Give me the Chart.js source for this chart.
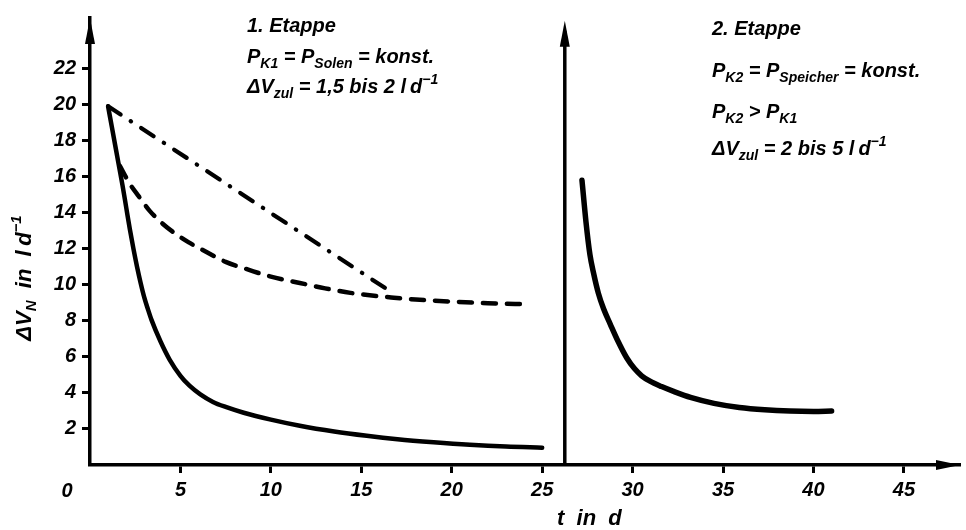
<!DOCTYPE html>
<html>
<head>
<meta charset="utf-8">
<script src="https://cdn.jsdelivr.net/npm/chart.js@4/dist/chart.umd.min.js"></script>
<style>
  html, body { margin: 0; padding: 0; background: #fff; }
  #wrap { width: 966px; height: 530px; position: relative; }
</style>
</head>
<body>
<div id="wrap"><canvas id="c" width="966" height="530"></canvas></div>
<script>
// ---- data ----
const xTickValues = [5, 10, 15, 20, 25, 30, 35, 40, 45];
const yTickValues = [2, 4, 6, 8, 10, 12, 14, 16, 18, 20, 22];

// Stage 1, solid curve
const stage1SolidT = [1, 1.2, 1.4, 1.6, 1.8, 2.0, 2.2, 2.4, 2.6, 2.8, 3.0, 3.2, 3.4, 3.9, 4.4, 5.0, 5.5, 6.1, 6.8, 7.5, 8.5, 10, 11.6, 13.5, 15.3, 17, 19, 21, 23, 25];
const stage1SolidV = [19.9, 18.8, 17.7, 16.6, 15.5, 14.3, 13.1, 12.0, 11.0, 10.1, 9.3, 8.65, 8.05, 6.85, 5.85, 4.95, 4.4, 3.92, 3.5, 3.22, 2.9, 2.52, 2.18, 1.86, 1.62, 1.43, 1.26, 1.12, 1.02, 0.96];

// Stage 1, dashed curve
const stage1DashT = [1.65, 2.2, 2.7, 3.3, 4.0, 4.7, 5.46, 6.1, 7.5, 8.87, 10, 11.6, 13, 14.4, 16.8, 18, 19.9, 22, 24.15];
const stage1DashV = [16.6, 15.6, 14.9, 14.1, 13.4, 12.85, 12.35, 12.0, 11.27, 10.8, 10.45, 10.1, 9.8, 9.55, 9.28, 9.18, 9.07, 8.98, 8.92];

// Stage 1, dash-dot line
const stage1DashDotT = [1, 16.8];
const stage1DashDotV = [19.9, 9.5];

// Stage 2, solid curve
const stage2SolidT = [27.2, 27.42, 27.64, 27.85, 28.1, 28.4, 28.75, 29.2, 29.67, 30.1, 30.5, 30.96, 31.6, 32.3, 33.2, 34.5, 35.9, 37.3, 38.7, 40, 41.0];
const stage2SolidV = [15.8, 13.5, 11.67, 10.6, 9.55, 8.65, 7.85, 6.85, 5.95, 5.35, 4.95, 4.65, 4.35, 4.07, 3.75, 3.42, 3.19, 3.06, 2.99, 2.97, 2.99];

// second stage axis position (t in d)
const stage2AxisT = 26.25;

const FONT = '"Liberation Sans", Arial, sans-serif';
const pts = (xs, ys) => xs.map((x, i) => ({ x: x, y: ys[i] }));

function segsWidth(ctx, segs, base) {
  let w = 0;
  for (const s of segs) {
    ctx.font = `italic bold ${s.size || base}px ${FONT}`;
    w += ctx.measureText(s.t).width;
  }
  return w;
}
function drawSegs(ctx, x, y, segs, base) {
  let cx = x;
  for (const s of segs) {
    ctx.font = `italic bold ${s.size || base}px ${FONT}`;
    ctx.fillText(s.t, cx, y + (s.dy || 0));
    cx += ctx.measureText(s.t).width;
  }
}
const T = t => ({ t });
const SUB = t => ({ t, size: 14, dy: 5 });
const SUP = t => ({ t, size: 14, dy: -9 });

const overlay = {
  id: 'overlay',
  afterDraw(chart) {
    const ctx = chart.ctx;
    const xs = chart.scales.x, ys = chart.scales.y;
    const x0 = xs.getPixelForValue(0), y0 = ys.getPixelForValue(0);
    const yTopPx = ys.getPixelForValue(ys.max);
    const xEnd = xs.getPixelForValue(xs.max);
    ctx.save();
    ctx.fillStyle = '#000';
    ctx.strokeStyle = '#000';
    // y axis arrowhead
    ctx.beginPath();
    ctx.moveTo(x0, yTopPx);
    ctx.lineTo(x0 - 5, yTopPx + 26);
    ctx.lineTo(x0 + 5, yTopPx + 26);
    ctx.closePath(); ctx.fill();
    // x axis arrowhead
    ctx.beginPath();
    ctx.moveTo(xEnd, y0);
    ctx.lineTo(xEnd - 24, y0 - 5);
    ctx.lineTo(xEnd - 24, y0 + 5);
    ctx.closePath(); ctx.fill();
    // second stage vertical axis
    const x2 = xs.getPixelForValue(stage2AxisT);
    const top2 = ys.getPixelForValue(24.65);
    ctx.lineWidth = 3.5;
    ctx.beginPath();
    ctx.moveTo(x2, y0);
    ctx.lineTo(x2, top2 + 10);
    ctx.stroke();
    ctx.beginPath();
    ctx.moveTo(x2, top2);
    ctx.lineTo(x2 - 5, top2 + 26);
    ctx.lineTo(x2 + 5, top2 + 26);
    ctx.closePath(); ctx.fill();

    ctx.textBaseline = 'alphabetic';
    // origin label
    ctx.font = `italic bold 20px ${FONT}`;
    ctx.textAlign = 'center';
    ctx.fillText('0', x0 - 23, 497);
    ctx.textAlign = 'left';

    // x axis title
    drawSegs(ctx, 557, 525, [T('t  in  d')], 22);

    // y axis title (rotated)
    const ySegs = [T('\u0394V'), { t: 'N', size: 15, dy: 5 }, T('  in  l\u2009d'), { t: '\u22121', size: 15, dy: -10 }];
    const w = segsWidth(ctx, ySegs, 22);
    ctx.save();
    ctx.translate(31, 278);
    ctx.rotate(-Math.PI / 2);
    drawSegs(ctx, -w / 2, 0, ySegs, 22);
    ctx.restore();

    // stage 1 annotation
    const a1 = 247;
    drawSegs(ctx, a1, 32, [T('1. Etappe')], 20);
    drawSegs(ctx, a1, 63, [T('P'), SUB('K1'), T(' = P'), SUB('Solen'), T(' = konst.')], 20);
    drawSegs(ctx, a1, 93, [T('\u0394V'), SUB('zul'), T(' = 1,5 bis 2 l\u2009d'), SUP('\u22121')], 20);

    // stage 2 annotation
    const a2 = 712;
    drawSegs(ctx, a2, 35, [T('2. Etappe')], 20);
    drawSegs(ctx, a2, 77, [T('P'), SUB('K2'), T(' = P'), SUB('Speicher'), T(' = konst.')], 20);
    drawSegs(ctx, a2, 118, [T('P'), SUB('K2'), T(' > P'), SUB('K1')], 20);
    drawSegs(ctx, a2, 155, [T('\u0394V'), SUB('zul'), T(' = 2 bis 5 l\u2009d'), SUP('\u22121')], 20);
    ctx.restore();
  }
};

const lineBase = {
  showLine: true,
  pointRadius: 0,
  borderColor: '#000',
  backgroundColor: '#000',
  fill: false,
  cubicInterpolationMode: 'monotone',
  borderCapStyle: 'round',
  borderJoinStyle: 'round'
};

new Chart(document.getElementById('c'), {
  type: 'scatter',
  data: {
    datasets: [
      Object.assign({}, lineBase, { label: 'Stufe 1', data: pts(stage1SolidT, stage1SolidV), borderWidth: 4.5 }),
      Object.assign({}, lineBase, { label: 'Stufe 1 gestrichelt', data: pts(stage1DashT, stage1DashV), borderWidth: 4.5, borderDash: [13, 11] }),
      Object.assign({}, lineBase, { label: 'Stufe 1 strichpunktiert', data: pts(stage1DashDotT, stage1DashDotV), borderWidth: 4.2, borderDash: [15, 12, 0.5, 12] }),
      Object.assign({}, lineBase, { label: 'Stufe 2', data: pts(stage2SolidT, stage2SolidV), borderWidth: 5.5 })
    ]
  },
  options: {
    responsive: false,
    animation: false,
    events: [],
    layout: { padding: { left: 0, top: 8, right: 6, bottom: 0 } },
    plugins: { legend: { display: false }, tooltip: { enabled: false } },
    scales: {
      x: {
        type: 'linear',
        min: 0,
        max: 48.1,
        afterFit: s => { s.height = 65; },
        afterBuildTicks: s => { s.ticks = xTickValues.map(v => ({ value: v })); },
        grid: { display: true, drawOnChartArea: false, drawTicks: true, tickLength: 8, tickWidth: 3, tickColor: '#000' },
        border: { display: true, color: '#000', width: 3.5 },
        ticks: {
          autoSkip: false,
          maxRotation: 0,
          padding: 5,
          color: '#000',
          font: { family: FONT, size: 20, style: 'italic', weight: 'bold' },
          callback: v => String(v)
        }
      },
      y: {
        type: 'linear',
        min: 0,
        max: 24.8,
        afterFit: s => { s.width = 90; },
        afterBuildTicks: s => { s.ticks = yTickValues.map(v => ({ value: v })); },
        grid: { display: true, drawOnChartArea: false, drawTicks: true, tickLength: 8, tickWidth: 3, tickColor: '#000' },
        border: { display: true, color: '#000', width: 3.5 },
        ticks: {
          autoSkip: false,
          padding: 6,
          color: '#000',
          font: { family: FONT, size: 20, style: 'italic', weight: 'bold' },
          callback: v => String(v)
        }
      }
    }
  },
  plugins: [overlay]
});
</script>
</body>
</html>
